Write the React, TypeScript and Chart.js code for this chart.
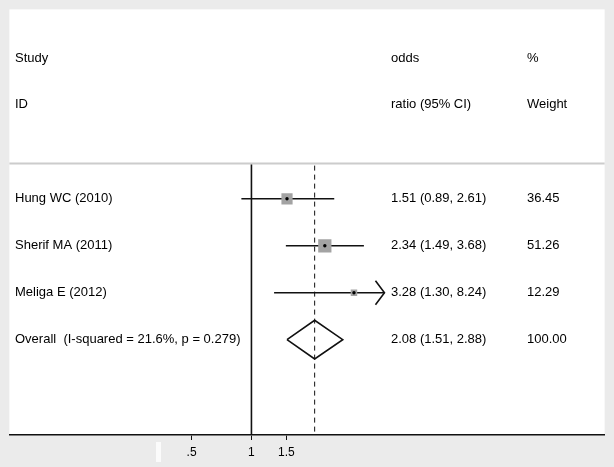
import React, { useEffect, useRef } from "react";
import { Chart, registerables } from "chart.js";

Chart.register(...registerables);

// ---- data ----
const studies = ["Hung WC (2010)", "Sherif MA (2011)", "Meliga E (2012)"];
const oddsRatios = [1.51, 2.34, 3.28];
const ciLower = [0.89, 1.49, 1.3];
const ciUpper = [2.61, 3.68, 8.24];
const weights = [36.45, 51.26, 12.29];
const overallLabel = "Overall  (I-squared = 21.6%, p = 0.279)";
const overallOR = 2.08;
const overallLower = 1.51;
const overallUpper = 2.88;
const overallWeight = 100.0;
const headerLeft = ["Study", "ID"];
const headerMid = ["odds", "ratio (95% CI)"];
const headerRight = ["%", "Weight"];
const xTickValues = [0.5, 1, 1.5];
const xTickLabels = [".5", "1", "1.5"];
const xMin = Math.exp(-244 / 87);
const xMax = Math.exp(356 / 87);
const ciClipMax = 4.67;

const studyRows = [3, 4, 5];
const overallRow = 6;

const FONT = "13px 'Liberation Sans', Arial, sans-serif";

export default function App() {
  const ref = useRef<HTMLCanvasElement | null>(null);

  useEffect(() => {
    document.body.style.margin = "0";
    const canvas = ref.current!;

    const ciDatasets = studies.map((s, i) => ({
      type: "scatter" as const,
      label: "ci" + i,
      data: [
        { x: ciLower[i], y: studyRows[i] },
        { x: Math.min(ciUpper[i], ciClipMax), y: studyRows[i] },
      ],
      showLine: true,
      borderColor: "#111",
      borderWidth: 1.6,
      pointRadius: 0,
      order: 3,
    }));

    const squareDs = {
      type: "scatter" as const,
      label: "weights",
      data: studies.map((s, i) => ({ x: oddsRatios[i], y: studyRows[i] })),
      pointStyle: "rect" as const,
      pointRadius: (ctx: any) => (1.85 * Math.sqrt(weights[ctx.dataIndex] ?? 0)) / Math.SQRT2,
      backgroundColor: "#a3a3a3",
      borderWidth: 0,
      order: 2,
    };

    const dotDs = {
      type: "scatter" as const,
      label: "est",
      data: studies.map((s, i) => ({ x: oddsRatios[i], y: studyRows[i] })),
      pointStyle: "circle" as const,
      pointRadius: 1.7,
      backgroundColor: "#000",
      borderWidth: 0,
      order: 1,
    };

    const dh = 0.412;
    const diamondDs = {
      type: "scatter" as const,
      label: "overall",
      data: [
        { x: overallLower, y: overallRow },
        { x: overallOR, y: overallRow - dh },
        { x: overallUpper, y: overallRow },
        { x: overallOR, y: overallRow + dh },
        { x: overallLower, y: overallRow },
      ],
      showLine: true,
      borderColor: "#111",
      borderWidth: 1.6,
      pointRadius: 0,
      order: 1,
    };

    const forestPlugin = {
      id: "forest",
      beforeDraw(chart: any) {
        const { ctx, chartArea } = chart;
        ctx.save();
        ctx.fillStyle = "#ebebeb";
        ctx.fillRect(0, 0, chart.width, chart.height);
        ctx.fillStyle = "#ffffff";
        ctx.fillRect(chartArea.left, chartArea.top, chartArea.right - chartArea.left, chartArea.bottom - chartArea.top);
        // small white artifact under axis
        ctx.fillStyle = "#fbfbfb";
        ctx.fillRect(156, 442, 5, 20);
        ctx.restore();
      },
      beforeDatasetsDraw(chart: any) {
        const { ctx, chartArea, scales } = chart;
        const x = scales.x;
        const y = scales.y;
        ctx.save();
        // separator
        const sepY = y.getPixelForValue(2.25);
        ctx.strokeStyle = "#cccccc";
        ctx.lineWidth = 2;
        ctx.beginPath();
        ctx.moveTo(chartArea.left, sepY);
        ctx.lineTo(chartArea.right, sepY);
        ctx.stroke();
        // null line
        const x1 = x.getPixelForValue(1);
        ctx.strokeStyle = "#111";
        ctx.lineWidth = 1.6;
        ctx.beginPath();
        ctx.moveTo(x1, sepY + 1);
        ctx.lineTo(x1, chartArea.bottom);
        ctx.stroke();
        // overall dashed line
        const xo = x.getPixelForValue(overallOR);
        ctx.lineWidth = 1;
        ctx.setLineDash([5, 4]);
        ctx.beginPath();
        ctx.moveTo(xo, sepY + 2);
        ctx.lineTo(xo, chartArea.bottom);
        ctx.stroke();
        ctx.setLineDash([]);
        // texts
        ctx.fillStyle = "#000";
        ctx.font = FONT;
        ctx.textBaseline = "middle";
        ctx.textAlign = "left";
        const colL = 15, colM = 391, colR = 527;
        headerLeft.forEach((t, i) => ctx.fillText(t, colL, y.getPixelForValue(i)));
        headerMid.forEach((t, i) => ctx.fillText(t, colM, y.getPixelForValue(i)));
        headerRight.forEach((t, i) => ctx.fillText(t, colR, y.getPixelForValue(i)));
        studies.forEach((s, i) => {
          const py = y.getPixelForValue(studyRows[i]);
          ctx.fillText(s, colL, py);
          ctx.fillText(`${oddsRatios[i].toFixed(2)} (${ciLower[i].toFixed(2)}, ${ciUpper[i].toFixed(2)})`, colM, py);
          ctx.fillText(weights[i].toFixed(2), colR, py);
        });
        const po = y.getPixelForValue(overallRow);
        ctx.fillText(overallLabel, colL, po);
        ctx.fillText(`${overallOR.toFixed(2)} (${overallLower.toFixed(2)}, ${overallUpper.toFixed(2)})`, colM, po);
        ctx.fillText(overallWeight.toFixed(2), colR, po);
        ctx.restore();
      },
      afterDatasetsDraw(chart: any) {
        const { ctx, scales } = chart;
        const x = scales.x;
        const y = scales.y;
        ctx.save();
        ctx.strokeStyle = "#111";
        ctx.lineWidth = 1.6;
        studies.forEach((s, i) => {
          if (ciUpper[i] > ciClipMax) {
            const tx = x.getPixelForValue(ciClipMax);
            const ty = y.getPixelForValue(studyRows[i]);
            ctx.beginPath();
            ctx.moveTo(tx - 9, ty - 12);
            ctx.lineTo(tx, ty);
            ctx.lineTo(tx - 9, ty + 12);
            ctx.stroke();
          }
        });
        ctx.restore();
      },
    };

    const chart = new Chart(canvas, {
      type: "scatter",
      data: { datasets: [...ciDatasets, squareDs, dotDs, diamondDs] as any },
      options: {
        animation: false,
        responsive: false,
        devicePixelRatio: 1,
        layout: { padding: { left: 6, right: 8, top: 6, bottom: 0 } },
        plugins: { legend: { display: false }, tooltip: { enabled: false } },
        scales: {
          x: {
            type: "logarithmic",
            min: xMin,
            max: xMax,
            afterBuildTicks: (axis: any) => {
              axis.ticks = xTickValues.map((v) => ({ value: v }));
            },
            afterFit: (axis: any) => {
              axis.height = 32;
            },
            ticks: {
              autoSkip: false,
              maxRotation: 0,
              padding: 5,
              color: "#000",
              font: { family: "'Liberation Sans', Arial, sans-serif", size: 12 },
              callback: (v: any, i: number) => xTickLabels[i],
            },
            grid: { display: true, drawOnChartArea: false, drawTicks: true, tickLength: 5, color: "#111", lineWidth: 1 },
            border: { display: true, color: "#111", width: 1.6 },
          },
          y: {
            type: "linear",
            min: -1.035,
            max: 8.03,
            reverse: true,
            display: false,
          },
        },
      } as any,
      plugins: [forestPlugin],
    });
    return () => chart.destroy();
  }, []);

  return (
    <div style={{ width: 614, height: 467 }}>
      <canvas ref={ref} width={614} height={467} style={{ display: "block", width: 614, height: 467 }} />
    </div>
  );
}
